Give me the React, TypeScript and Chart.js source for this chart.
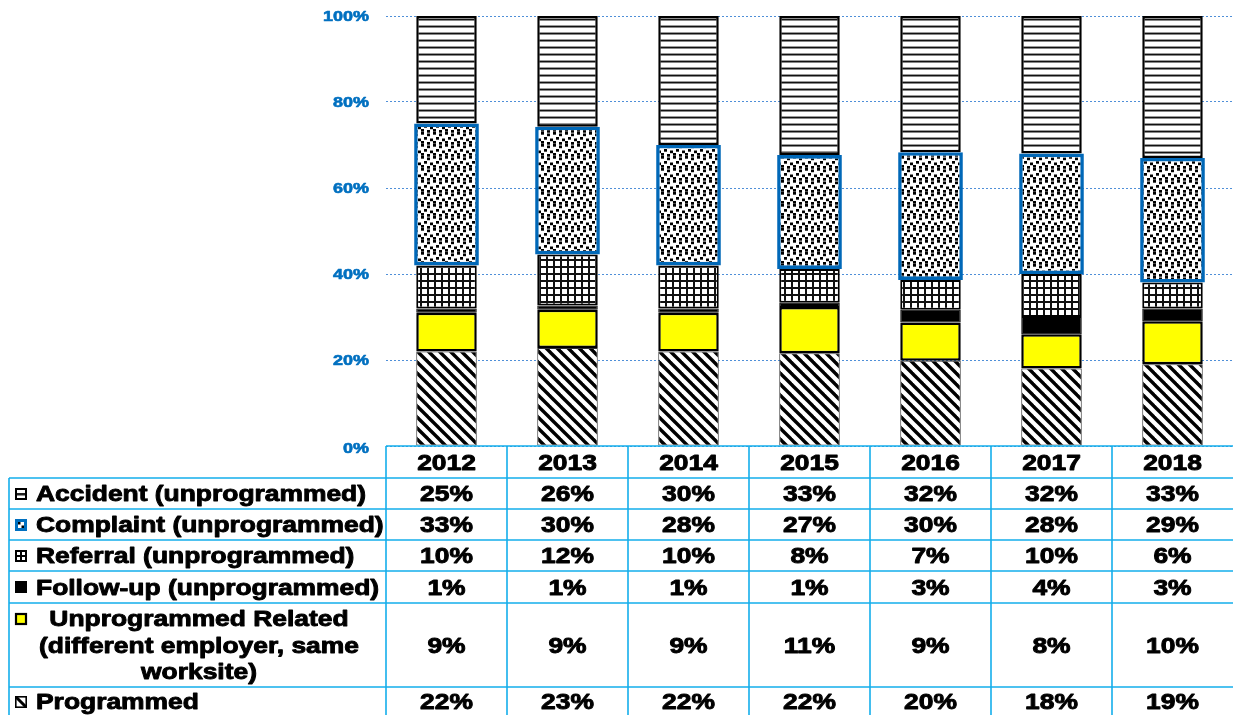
import React, { useEffect, useRef } from 'react';
import { Chart, registerables } from 'chart.js';

Chart.register(...registerables);

// ---- Data ----
const years = ['2012', '2013', '2014', '2015', '2016', '2017', '2018'];
const accident = [25, 26, 30, 33, 32, 32, 33];
const complaint = [33, 30, 28, 27, 30, 28, 29];
const referral = [10, 12, 10, 8, 7, 10, 6];
const followUp = [1, 1, 1, 1, 3, 4, 3];
const related = [9, 9, 9, 11, 9, 8, 10];
const programmed = [22, 23, 22, 22, 20, 18, 19];
const yTicks = [0, 20, 40, 60, 80, 100];

const labelAccident = ['Accident (unprogrammed)'];
const labelComplaint = ['Complaint (unprogrammed)'];
const labelReferral = ['Referral (unprogrammed)'];
const labelFollowUp = ['Follow-up (unprogrammed)'];
const labelRelated = ['Unprogrammed Related', '(different employer, same', 'worksite)'];
const labelProgrammed = ['Programmed'];

const FONT = '"Liberation Sans", Arial, Helvetica, sans-serif';
const SX = 1.2;

function makeTile(w: number, h: number, draw: (c: CanvasRenderingContext2D) => void) {
  const t = document.createElement('canvas');
  t.width = w;
  t.height = h;
  const c = t.getContext('2d')!;
  c.fillStyle = '#ffffff';
  c.fillRect(0, 0, w, h);
  draw(c);
  return t;
}

function makePatterns(ctx: CanvasRenderingContext2D) {
  const hLines = makeTile(8, 7, (c) => {
    c.fillStyle = '#9a9a9a';
    c.fillRect(0, 4, 8, 1);
    c.fillStyle = '#111111';
    c.fillRect(0, 5, 8, 1.5);
  });
  const dots = makeTile(12, 12, (c) => {
    c.fillStyle = '#000000';
    const pts = [
      [1, 0], [7, 1.5], [4, 5], [10, 6.5], [1, 9], [7, 10],
    ];
    pts.forEach(([x, y]) => {
      for (const dx of [0, -12]) for (const dy of [0, -12]) c.fillRect(x + dx, y + dy, 3, 2.7);
    });
  });
  const grid = makeTile(7, 7, (c) => {
    c.fillStyle = '#111111';
    c.fillRect(0, 0, 7, 2);
    c.fillRect(0, 0, 2, 7);
  });
  const diag = makeTile(11, 11, (c) => {
    c.strokeStyle = '#000000';
    c.lineWidth = 3.4;
    c.lineCap = 'square';
    const segs = [
      [0, 0, 11, 11],
      [-11, 0, 0, 11],
      [0, -11, 11, 0],
    ];
    segs.forEach(([a, b, d, e]) => {
      c.beginPath();
      c.moveTo(a, b);
      c.lineTo(d, e);
      c.stroke();
    });
  });
  return {
    hLines: ctx.createPattern(hLines, 'repeat')!,
    dots: ctx.createPattern(dots, 'repeat')!,
    grid: ctx.createPattern(grid, 'repeat')!,
    diag: ctx.createPattern(diag, 'repeat')!,
  };
}

function txt(ctx: CanvasRenderingContext2D, s: string, x: number, cy: number, align: CanvasTextAlign, size: number, color: string) {
  ctx.save();
  ctx.font = `bold ${size}px ${FONT}`;
  ctx.fillStyle = color;
  ctx.strokeStyle = color;
  ctx.lineWidth = size > 18 ? 0.9 : 0.6;
  ctx.lineJoin = 'round';
  ctx.textBaseline = 'alphabetic';
  ctx.textAlign = align;
  ctx.translate(x, cy + size * 0.358);
  ctx.scale(SX, 1);
  ctx.fillText(s, 0, 0);
  ctx.strokeText(s, 0, 0);
  ctx.restore();
}

function drawIcon(ctx: CanvasRenderingContext2D, kind: string, x: number, cy: number) {
  const s = 12;
  const y = Math.round(cy - s / 2);
  ctx.save();
  ctx.lineWidth = 2;
  ctx.strokeStyle = '#000';
  if (kind === 'accident') {
    ctx.fillStyle = '#fff';
    ctx.fillRect(x, y, s, s);
    ctx.fillStyle = '#222';
    ctx.fillRect(x, y + 5, s, 2.5);
    ctx.strokeRect(x + 1, y + 1, s - 2, s - 2);
  } else if (kind === 'complaint') {
    ctx.fillStyle = '#0070C0';
    ctx.fillRect(x, y, s, s);
    ctx.fillStyle = '#fff';
    ctx.fillRect(x + 3, y + 3, s - 6, s - 6);
    ctx.fillStyle = '#000';
    ctx.fillRect(x + 3, y + 3, 2.5, 2.5);
    ctx.fillRect(x + 6.5, y + 6.5, 2.5, 2.5);
  } else if (kind === 'referral') {
    ctx.fillStyle = '#fff';
    ctx.fillRect(x, y, s, s);
    ctx.strokeRect(x + 1, y + 1, s - 2, s - 2);
    ctx.beginPath();
    ctx.moveTo(x + s / 2, y);
    ctx.lineTo(x + s / 2, y + s);
    ctx.moveTo(x, y + s / 2);
    ctx.lineTo(x + s, y + s / 2);
    ctx.stroke();
  } else if (kind === 'followUp') {
    ctx.fillStyle = '#000';
    ctx.fillRect(x, y, s, s);
  } else if (kind === 'related') {
    ctx.fillStyle = '#FFFF00';
    ctx.fillRect(x, y, s, s);
    ctx.lineWidth = 2.2;
    ctx.strokeRect(x + 1, y + 1, s - 2, s - 2);
  } else if (kind === 'programmed') {
    ctx.fillStyle = '#fff';
    ctx.fillRect(x, y, s, s);
    ctx.lineWidth = 1.6;
    ctx.strokeRect(x + 0.8, y + 0.8, s - 1.6, s - 1.6);
    ctx.lineWidth = 3;
    ctx.beginPath();
    ctx.moveTo(x + 1, y + 1);
    ctx.lineTo(x + s - 1, y + s - 1);
    ctx.stroke();
  }
  ctx.restore();
}

const tablePlugin = {
  id: 'tablePlugin',
  afterDraw(chart: any) {
    const ctx: CanvasRenderingContext2D = chart.ctx;
    const area = chart.chartArea;
    const yScale = chart.scales.y;
    const xScale = chart.scales.x;

    // y tick labels
    yTicks.forEach((v) => {
      const py = yScale.getPixelForValue(v);
      txt(ctx, `${v}%`, 369, v === 0 ? py + 2 : py, 'right', 15, '#0070C0');
    });

    const n = years.length;
    const colW = (area.right - area.left) / n;
    const bounds = Array.from({ length: n + 1 }, (_, i) => area.left + i * colW);
    const headerTop = area.bottom;
    const rowB = [478, 509, 540, 571, 603, 687, 716];
    const leftX = 9;
    const rightX = area.right;

    const rows = [
      { kind: 'accident', label: labelAccident, data: accident },
      { kind: 'complaint', label: labelComplaint, data: complaint },
      { kind: 'referral', label: labelReferral, data: referral },
      { kind: 'followUp', label: labelFollowUp, data: followUp },
      { kind: 'related', label: labelRelated, data: related },
      { kind: 'programmed', label: labelProgrammed, data: programmed },
    ];

    // header years
    years.forEach((yr, i) => {
      const cx = xScale.getPixelForValue(i);
      txt(ctx, yr, cx, (headerTop + rowB[0]) / 2, 'center', 22, '#000');
    });

    rows.forEach((r, ri) => {
      const top = rowB[ri];
      const bot = rowB[ri + 1];
      const mid = (top + bot) / 2;
      if (r.label.length === 1) {
        drawIcon(ctx, r.kind, 15, mid);
        txt(ctx, r.label[0], 36, mid, 'left', 22, '#000');
      } else {
        const lh = 26.5;
        const start = mid - lh * (r.label.length - 1) / 2;
        drawIcon(ctx, r.kind, 15, start);
        r.label.forEach((ln, li) => txt(ctx, ln, 199, start + li * lh, 'center', 22, '#000'));
      }
      r.data.forEach((v, i) => {
        const cx = xScale.getPixelForValue(i);
        txt(ctx, `${v}%`, cx, mid, 'center', 22, '#000');
      });
    });

    // grid lines of table
    ctx.save();
    ctx.strokeStyle = '#14AEEB';
    ctx.lineWidth = 1.6;
    ctx.beginPath();
    ctx.moveTo(bounds[0], headerTop);
    ctx.lineTo(rightX, headerTop);
    rowB.slice(0, rowB.length - 1).forEach((yy) => {
      ctx.moveTo(leftX, yy);
      ctx.lineTo(rightX, yy);
    });
    ctx.moveTo(leftX, rowB[0]);
    ctx.lineTo(leftX, 716);
    bounds.forEach((bx, i) => {
      if (i === n) return;
      ctx.moveTo(bx, headerTop);
      ctx.lineTo(bx, 716);
    });
    ctx.stroke();
    ctx.restore();
  },
};

export default function App() {
  const ref = useRef<HTMLCanvasElement | null>(null);

  useEffect(() => {
    document.body.style.margin = '0';
    const canvas = ref.current!;
    const ctx = canvas.getContext('2d')!;
    const p = makePatterns(ctx);

    const totals = years.map((_, i) =>
      accident[i] + complaint[i] + referral[i] + followUp[i] + related[i] + programmed[i]
    );
    const norm = (arr: number[]) => arr.map((v, i) => (v / totals[i]) * 100);

    const base = { barPercentage: 0.5, categoryPercentage: 1.0, borderSkipped: false as const };

    const chart = new Chart(canvas, {
      type: 'bar',
      data: {
        labels: years,
        datasets: [
          { ...base, label: 'Programmed', data: norm(programmed), backgroundColor: p.diag, borderColor: '#333', borderWidth: 1 },
          { ...base, label: 'Unprogrammed Related', data: norm(related), backgroundColor: '#FFFF00', borderColor: '#000', borderWidth: 2.5 },
          { ...base, label: 'Follow-up', data: norm(followUp), backgroundColor: '#000', borderColor: '#000', borderWidth: 1 },
          { ...base, label: 'Referral', data: norm(referral), backgroundColor: p.grid, borderColor: '#000', borderWidth: 2 },
          { ...base, barPercentage: 0.535, label: 'Complaint', data: norm(complaint), backgroundColor: p.dots, borderColor: '#0068B8', borderWidth: 3.6 },
          { ...base, label: 'Accident', data: norm(accident), backgroundColor: p.hLines, borderColor: '#000', borderWidth: 2.5 },
        ],
      },
      options: {
        responsive: false,
        animation: false,
        devicePixelRatio: 1,
        layout: { padding: { left: 386, right: 0, top: 16, bottom: 269 } },
        plugins: { legend: { display: false }, tooltip: { enabled: false } },
        scales: {
          x: { stacked: true, display: false },
          y: {
            stacked: true,
            min: 0,
            max: 100,
            ticks: { display: false, stepSize: 20 },
            grid: { color: '#4F8FD8', lineWidth: 1, drawTicks: false },
            border: { display: false, dash: [2, 2] },
            afterFit: (s: any) => { s.width = 0; },
          },
        },
      },
      plugins: [tablePlugin],
    });
    return () => chart.destroy();
  }, []);

  return (
    <canvas
      ref={ref}
      width={1233}
      height={715}
      style={{ position: 'absolute', left: 0, top: 0, width: 1233, height: 715, background: '#fff' }}
    />
  );
}
